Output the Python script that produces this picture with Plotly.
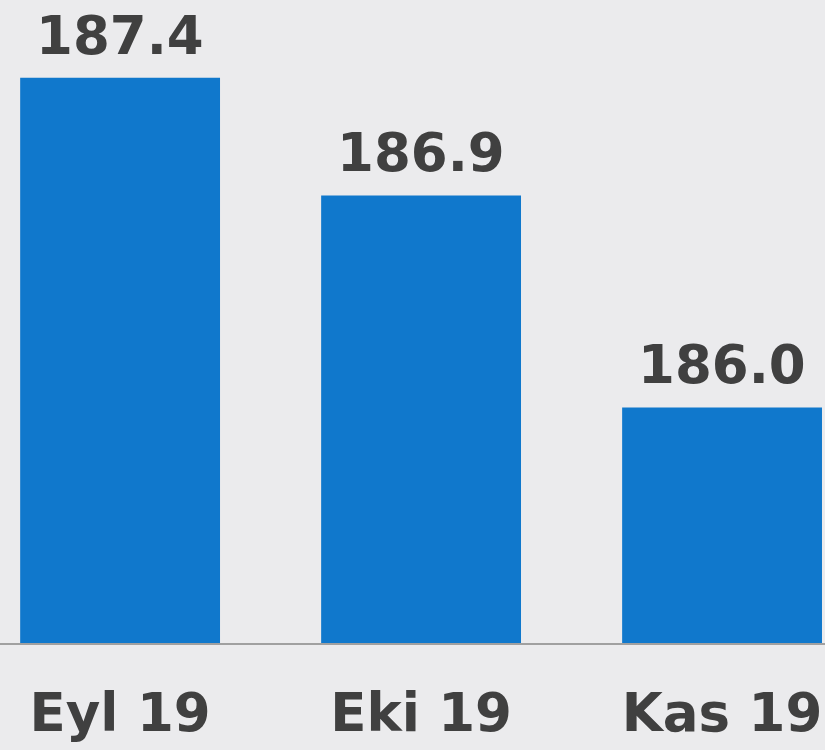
import plotly.graph_objects as go

categories = ["Eyl 19", "Eki 19", "Kas 19"]
values = [187.4, 186.9, 186.0]
value_labels = ["187.4", "186.9", "186.0"]

fig = go.Figure()
fig.add_trace(go.Bar(
    x=categories, y=values,
    marker=dict(color="#1078cc", line=dict(width=0)),
    hoverinfo="skip",
))
for c, v, t in zip(categories, values, value_labels):
    fig.add_annotation(x=c, y=v, text=t, showarrow=False, yanchor="bottom",
                       yshift=10, font=dict(family="DejaVu Sans", size=53, color="#404040"))

fig.update_layout(
    width=825, height=750,
    margin=dict(l=0, r=0, t=0, b=107),
    paper_bgcolor="#ebebed", plot_bgcolor="rgba(0,0,0,0)",
    bargap=0.336, showlegend=False,
    font=dict(family="DejaVu Sans", color="#404040"),
)
fig.update_xaxes(range=[-0.399, 2.342], showline=True, linecolor="#a0a0a0", linewidth=2,
                 ticks="", tickfont=dict(size=53, family="DejaVu Sans", color="#404040"),
                 ticklabelstandoff=22)
fig.update_yaxes(range=[185, 187.73], visible=False, showgrid=False)
fig.update_annotations(font_weight="bold")
fig.update_xaxes(tickfont_weight="bold")

fig.write_html("out.html", config={"displayModeBar": False},
               post_script="document.body.style.margin='0';document.body.style.background='#ebebed';")
